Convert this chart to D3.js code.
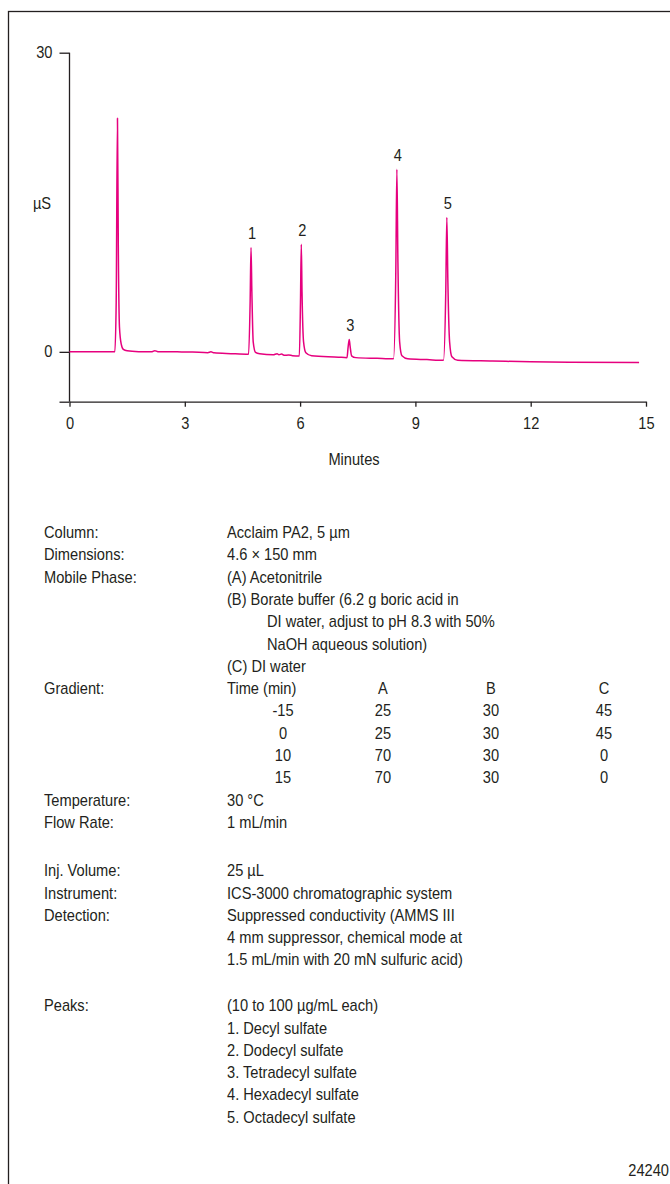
<!DOCTYPE html>
<html>
<head>
<meta charset="utf-8">
<script src="https://cdn.jsdelivr.net/npm/d3@7"></script>
<style>
  body { margin: 0; background: #fff; }
  svg text {
    font-family: "Liberation Sans", Arial, sans-serif;
    font-size: 16px;
    fill: #231f20;
  }
  .axis path, .axis line { stroke: #231f20; stroke-width: 1.3px; }
</style>
</head>
<body>
<svg id="chart" width="670" height="1184"></svg>
<script>
// chromatogram trace (minutes, µS)
const traceTime = [0, 1.18, 1.215, 1.248, 1.27, 1.3, 1.345, 1.4, 1.5, 1.8, 2.15, 2.22, 2.3, 2.8, 3.2,
  3.6, 3.68, 3.76, 4.2, 4.66, 4.7, 4.723, 4.745, 4.78, 4.84, 4.95, 5.3, 5.4, 5.45, 5.52, 5.58, 5.7,
  5.8, 5.98, 6.01, 6.031, 6.05, 6.09, 6.15, 6.3, 7.0, 7.22, 7.25, 7.278, 7.3, 7.34, 7.45, 8.0, 8.43,
  8.49, 8.518, 8.545, 8.59, 8.65, 8.8, 9.3, 9.73, 9.79, 9.818, 9.845, 9.89, 9.95, 10.1, 11, 12, 13, 14.82];
const traceSignal = [0, 0, 5, 23.42, 10.5, 2.5, 0.8, 0.25, 0.1, 0.02, 0, 0.12, 0.02, 0, -0.02,
  -0.08, 0, -0.1, -0.18, -0.24, 5, 10.47, 6, 1.0, -0.05, -0.2, -0.3, -0.18, -0.3, -0.22, -0.35, -0.32,
  -0.38, -0.42, 5, 10.78, 6, 1.0, -0.1, -0.4, -0.53, -0.58, 0.5, 1.24, 0.6, -0.4, -0.58, -0.65, -0.7,
  8, 18.3, 9, 1.0, -0.4, -0.7, -0.78, -0.85, 6, 13.48, 7, 1.0, -0.5, -0.85, -0.92, -1.0, -1.05, -1.08];

// labelled peaks
const peakNumbers = ["1", "2", "3", "4", "5"];
const peakTimes = [4.723, 6.031, 7.278, 8.518, 9.818];
const peakHeights = [10.47, 10.78, 1.24, 18.3, 13.48];
const peakNames = ["Decyl sulfate", "Dodecyl sulfate", "Tetradecyl sulfate", "Hexadecyl sulfate", "Octadecyl sulfate"];

const xTicks = [0, 3, 6, 9, 12, 15];
const yTicks = [30, 0, -5];
const yTickLabels = ["30", "0", ""];

// gradient table
const gradHeader = ["Time (min)", "A", "B", "C"];
const gradTime = ["-15", "0", "10", "15"];
const gradA = ["25", "25", "70", "70"];
const gradB = ["30", "30", "30", "30"];
const gradC = ["45", "45", "0", "0"];

// the original type is a condensed grotesque; squeeze Liberation Sans a little
const squeeze = 0.915;

const svg = d3.select("#chart");

function label(parent, px, py, str, anchor) {
  return parent.append("text")
    .attr("transform", `translate(${px},${py}) scale(${squeeze},1)`)
    .attr("text-anchor", anchor || "start")
    .text(str);
}

// outer frame (runs off the right and bottom edges)
svg.append("rect")
  .attr("x", 8.5).attr("y", 11.5)
  .attr("width", 700).attr("height", 1200)
  .attr("fill", "none").attr("stroke", "#231f20").attr("stroke-width", 1.3);

const x = d3.scaleLinear().domain([0, 15]).range([69.5, 646]);
const y = d3.scaleLinear().domain([-5, 30]).range([401.7, 52.7]);

// y axis
const yAxisG = svg.append("g")
  .attr("class", "axis")
  .attr("transform", `translate(${x(0)},0)`)
  .call(d3.axisLeft(y).tickValues(yTicks).tickSize(10).tickSizeOuter(0)
    .tickFormat((d, i) => yTickLabels[i]));
yAxisG.select(".domain").attr("d", `M0,${y(30)}V${y(-5)}`);
yAxisG.selectAll(".tick text")
  .attr("x", null)
  .attr("transform", `translate(-17,0) scale(${squeeze},1)`);

// x axis
const xAxisG = svg.append("g")
  .attr("class", "axis")
  .attr("transform", `translate(0,${y(-5)})`)
  .call(d3.axisBottom(x).tickValues(xTicks).tickSize(5).tickSizeOuter(0).tickPadding(10.5));
xAxisG.selectAll(".tick text").attr("transform", `scale(${squeeze},1)`);
svg.selectAll(".axis").attr("font-size", null).attr("font-family", null);

label(svg, 42, 208.5, "µS", "middle");
label(svg, 354, 464.8, "Minutes", "middle");

// trace
const points = traceTime.map((t, i) => [t, traceSignal[i]]);
const line = d3.line()
  .x(d => x(d[0]))
  .y(d => y(d[1]))
  .curve(d3.curveMonotoneX);

svg.append("path")
  .datum(points)
  .attr("d", line)
  .attr("fill", "none")
  .attr("stroke", "#e6007e")
  .attr("stroke-width", 1.5)
  .attr("stroke-linejoin", "round");

// peak numbers
peakNumbers.forEach((n, i) => {
  label(svg, x(peakTimes[i]) + 1, y(peakHeights[i]) - 8.5, n, "middle");
});

// conditions block
const lines = [
  ["Column:", "Acclaim PA2, 5 µm"],
  ["Dimensions:", "4.6 × 150 mm"],
  ["Mobile Phase:", "(A) Acetonitrile"],
  ["", "(B) Borate buffer (6.2 g boric acid in"],
  ["", "DI water, adjust to pH 8.3 with 50%", true],
  ["", "NaOH aqueous solution)", true],
  ["", "(C) DI water"],
  ["Gradient:", "table-header"],
  ["", "table-0"], ["", "table-1"], ["", "table-2"], ["", "table-3"],
  ["Temperature:", "30 °C"],
  ["Flow Rate:", "1 mL/min"],
  null,
  ["Inj. Volume:", "25 µL"],
  ["Instrument:", "ICS-3000 chromatographic system"],
  ["Detection:", "Suppressed conductivity (AMMS III"],
  ["", "4 mm suppressor, chemical mode at"],
  ["", "1.5 mL/min with 20 mN sulfuric acid)"],
  null,
  ["Peaks:", "(10 to 100 µg/mL each)"]
].concat(peakNames.map((n, i) => ["", `${i + 1}. ${n}`]));

const lineH = 22.3;
const colCenters = [283, 383, 491, 604];
let yPos = 538;
let gapCount = 0;
const block = svg.append("g");
lines.forEach(row => {
  if (row === null) {
    yPos += lineH * (gapCount === 0 ? 1.17 : 1.05);
    gapCount++;
    return;
  }
  if (row[0]) label(block, 44, yPos, row[0]);
  if (row[1] === "table-header") {
    label(block, 227, yPos, gradHeader[0]);
    gradHeader.slice(1).forEach((h, j) => label(block, colCenters[j + 1], yPos, h, "middle"));
  } else if (row[1].startsWith("table-")) {
    const k = +row[1].split("-")[1];
    [gradTime[k], gradA[k], gradB[k], gradC[k]].forEach((v, j) => {
      label(block, colCenters[j], yPos, v, "middle");
    });
  } else {
    label(block, row[2] ? 267 : 227, yPos, row[1]);
  }
  yPos += lineH;
});

label(svg, 669, 1175.8, "24240", "end");
</script>
</body>
</html>
